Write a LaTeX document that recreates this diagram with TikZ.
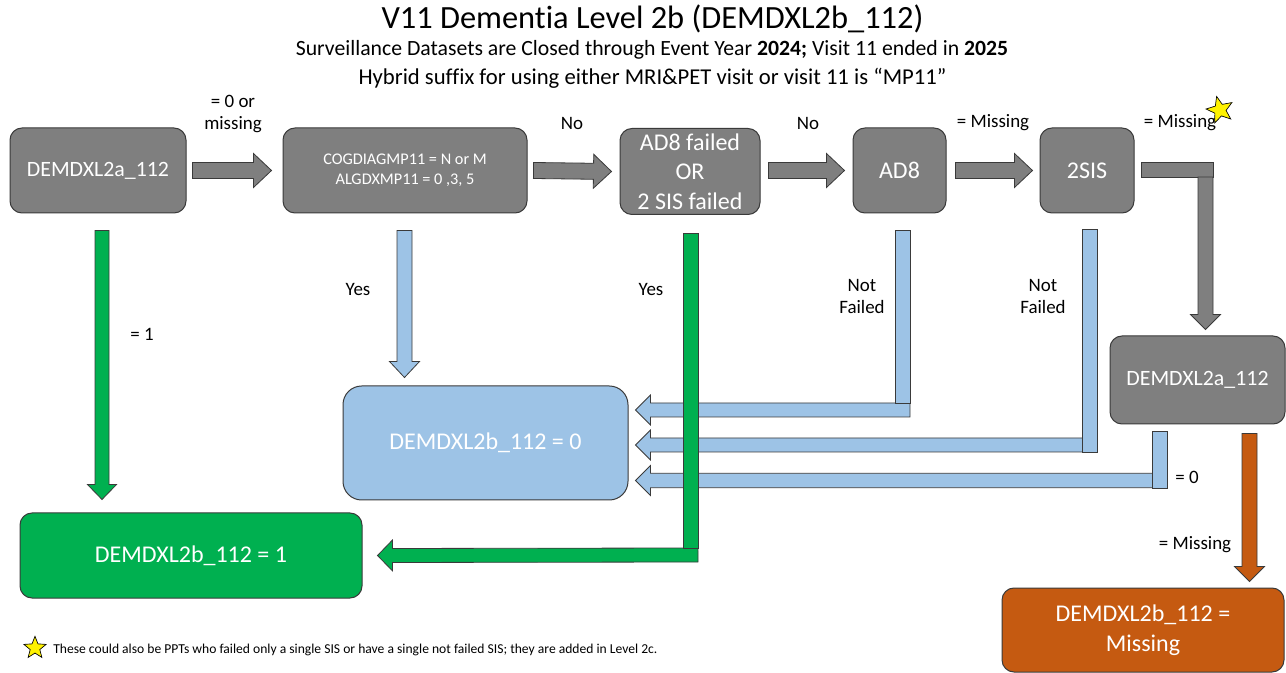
\documentclass[tikz,border=0pt]{standalone}
\usepackage{fontspec}
\setmainfont{Carlito}[Ligatures=NoCommon]
\usetikzlibrary{calc,shapes.geometric}
\definecolor{boxgray}{HTML}{7F7F7F}
\definecolor{boxblue}{HTML}{9DC3E6}
\definecolor{boxgreen}{HTML}{00B050}
\definecolor{boxorange}{HTML}{C55A11}
\definecolor{edgecol}{HTML}{3A3A3A}
% block arrow: style, from, to, shaft half width, head half width, head length
\newcommand{\blockarr}[6]{%
  \draw[#1] let \p1=(#2), \p2=(#3) in
    ($(\p1)!#4!90:(\p2)$) -- ($(\p2)!#6!(\p1)!#4!-90:(\p1)$) --
    ($(\p2)!#6!(\p1)!#5!-90:(\p1)$) -- (\p2) --
    ($(\p2)!#6!(\p1)!#5!90:(\p1)$) -- ($(\p2)!#6!(\p1)!#4!90:(\p1)$) --
    ($(\p1)!#4!-90:(\p2)$) -- cycle;}
\begin{document}
\begin{tikzpicture}[x=0.75pt,y=-0.75pt,
  box/.style={draw=edgecol, line width=0.75pt, rounded corners=9pt, inner sep=0pt, align=center, text=white},
  gbox/.style={box, fill=boxgray},
  garr/.style={draw=edgecol, line width=0.6pt, fill=boxgray},
  barr/.style={draw=edgecol, line width=0.6pt, fill=boxblue},
  grarr/.style={draw=edgecol, line width=0.6pt, fill=boxgreen},
  oarr/.style={draw=edgecol, line width=0.6pt, fill=boxorange},
  lbl/.style={font=\fontsize{14.2}{16.5}\selectfont, align=center, inner sep=0pt},
  yellowstar/.style={star, star points=5, star point ratio=2.3, fill=yellow, draw=black, line width=0.5pt, inner sep=0pt}]
\useasboundingbox (0,0) rectangle (1286,673);
\fill[white] (0,0) rectangle (1286,673);

% titles
\node[inner sep=0pt, font=\fontsize{24.3}{28}\selectfont] (title) at (652.5,19) {V11 Dementia Level 2b (DEMDXL2b\_112)};
\node[inner sep=0pt, font=\fontsize{16.3}{20}\selectfont] (sub1) at (652,50) {Surveillance Datasets are Closed through Event Year \textbf{2024;} Visit 11 ended in \textbf{2025}};
\node[inner sep=0pt, font=\fontsize{17}{20}\selectfont] (sub2) at (652.5,78) {Hybrid suffix for using either MRI\&PET visit or visit 11 is “MP11”};

% boxes
\node[gbox, minimum width=132pt, minimum height=63.75pt, font=\fontsize{16.4}{19}\selectfont] (A) at (98,170.5) {DEMDXL2a\_112};
\node[gbox, minimum width=183pt, minimum height=63.75pt, font=\fontsize{12.2}{15}\selectfont] (B) at (405,170.5) {COGDIAGMP11 = N or M\\ALGDXMP11 = 0 ,3, 5};
\node[gbox, minimum width=105pt, minimum height=64.5pt, font=\fontsize{18}{22}\selectfont] (C) at (690,171.5) {AD8 failed\\OR\\2 SIS failed};
\node[gbox, minimum width=69.75pt, minimum height=63.75pt, font=\fontsize{18}{22}\selectfont] (D) at (899.5,170.5) {AD8};
\node[gbox, minimum width=70.5pt, minimum height=63.75pt, font=\fontsize{18}{22}\selectfont] (E) at (1087,170.5) {2SIS};
\node[gbox, minimum width=131.25pt, minimum height=66pt, font=\fontsize{16.4}{19}\selectfont] (F) at (1197.5,380) {DEMDXL2a\_112};
\node[box, fill=boxblue, rounded corners=14pt, minimum width=213.75pt, minimum height=85.5pt, font=\fontsize{18}{22}\selectfont] (G) at (485.5,443) {DEMDXL2b\_112 = 0};
\node[box, fill=boxgreen, minimum width=256.5pt, minimum height=63.75pt, font=\fontsize{18}{22}\selectfont] (H) at (191,555.5) {DEMDXL2b\_112 = 1};
\node[box, fill=boxorange, minimum width=211.5pt, minimum height=63pt, font=\fontsize{18}{22.5}\selectfont] (I) at (1143,630) {DEMDXL2b\_112 =\\Missing};

% junction coordinates
\coordinate (jE) at (1205.5,177);
\coordinate (jC) at (698,555);
\coordinate (jD) at (910,410);
\coordinate (jE2) at (1097,445);
\coordinate (jF) at (1167,480.5);

% gray top row arrows
\blockarr{garr}{$(A.east)+(6,0)$}{$(B.west)+(-11,0)$}{6pt}{12.75pt}{13.5pt}
\blockarr{garr}{$(B.east)+(6,0)$}{$(C.west)+(-8,0)$}{6pt}{12.75pt}{13.5pt}
\blockarr{garr}{$(C.east)+(8,-1)$}{$(D.west)+(-8,0)$}{6pt}{12.75pt}{13.5pt}
\blockarr{garr}{$(D.east)+(9,0)$}{$(E.west)+(-7,0)$}{6pt}{12.75pt}{13.5pt}
% bent gray arrow from 2SIS to right DEMDXL2a
\draw[garr] ($(E.east)+(7,-8.5)$) rectangle ($(jE)+(7.5,0)$);
\blockarr{garr}{jE}{$(F.north)+(8,-6)$}{5.625pt}{11.25pt}{11.25pt}

% green from A
\blockarr{grarr}{$(A.south)+(4,17)$}{$(H.north)+(-89,-13)$}{5.25pt}{10.9pt}{11.25pt}
% blue from B
\blockarr{barr}{$(B.south)+(-0.5,17)$}{$(G.north)+(-81,-8)$}{5.625pt}{11.25pt}{12pt}

% blue from AD8
\blockarr{barr}{jD}{$(G.east)+(7,-33)$}{5.25pt}{11.25pt}{11.25pt}
\draw[barr] ($(D.south)+(-4.5,17)$) rectangle ($(jD)+(0,-7)$);
% blue from 2SIS
\blockarr{barr}{jE2}{$(G.east)+(7,2)$}{5.25pt}{11.25pt}{11.25pt}
\draw[barr] ($(E.south)+(-5,16)$) rectangle ($(jE2)+(0,7)$);
% blue from right DEMDXL2a
\blockarr{barr}{jF}{$(G.east)+(7,37.5)$}{5.4pt}{11.25pt}{11.25pt}
\draw[barr] ($(F.south)+(-45.5,7)$) rectangle ($(jF)+(0,7.5)$);

% green from AD8 failed OR 2 SIS failed
\blockarr{grarr}{jC}{$(H.east)+(15,0)$}{5.25pt}{11.6pt}{11.25pt}
\draw[grarr] ($(C.south)+(-7,18)$) rectangle ($(jC)+(0,-7)$);

% orange
\blockarr{oarr}{$(F.south)+(52,9)$}{$(I.north)+(106.5,-6)$}{5.625pt}{11.25pt}{11.25pt}

% labels
\node[lbl] (l1) at (233,114) {= 0 or\\missing};
\node[lbl] (l2) at (572,123) {No};
\node[lbl] (l3) at (808,123) {No};
\node[lbl] (l4) at (993,123) {= Missing};
\node[lbl] (l5) at (1180,123) {= Missing};
\node[lbl] (l6) at (358,289) {Yes};
\node[lbl] (l7) at (651,289) {Yes};
\node[lbl] (l8) at (142,334) {= 1};
\node[lbl] (l9) at (862,296) {Not\\Failed};
\node[lbl] (l10) at (1043,296) {Not\\Failed};
\node[lbl] (l11) at (1187,477) {= 0};
\node[lbl] (l12) at (1195,545) {= Missing};

% stars
\node[yellowstar, minimum size=21pt, rotate=14] (s1) at (1220,110) {};
\node[yellowstar, minimum size=17.5pt] (s2) at (35,648) {};
\node[anchor=west, inner sep=0pt, font=\fontsize{10.2}{12}\selectfont] (foot) at (53,650) {These could also be PPTs who failed only a single SIS or have a single not failed SIS; they are added in Level 2c.};
\end{tikzpicture}
\end{document}
